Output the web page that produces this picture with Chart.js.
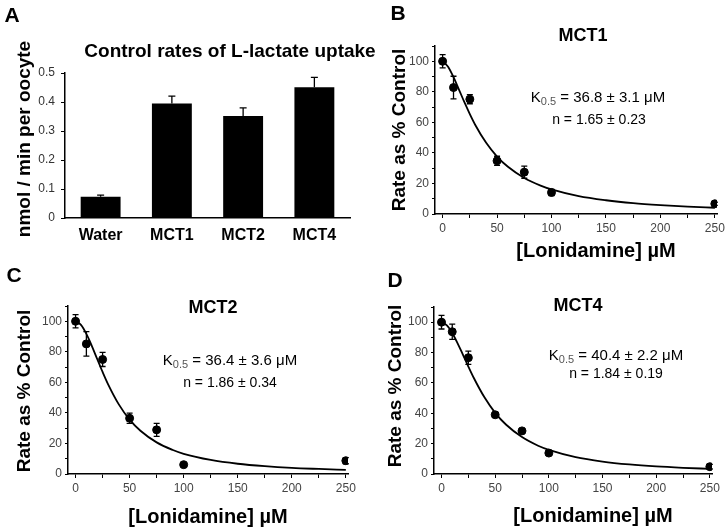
<!DOCTYPE html>
<html>
<head>
<meta charset="utf-8">
<title>Lonidamine inhibition of MCT1, MCT2 and MCT4</title>
<script src="https://cdn.jsdelivr.net/npm/chart.js"></script>
<style>
  body { margin: 0; background: #fff; }
  #figure { position: relative; width: 728px; height: 532px; overflow: hidden; }
  .panel { position: absolute; }
</style>
</head>
<body>
<div id="figure">
  <div class="panel" style="left:0;top:0"><canvas id="panel-a" width="400" height="266"></canvas></div>
  <div class="panel" style="left:364px;top:0"><canvas id="panel-b" width="364" height="266"></canvas></div>
  <div class="panel" style="left:0;top:266px"><canvas id="panel-c" width="364" height="266"></canvas></div>
  <div class="panel" style="left:364px;top:266px"><canvas id="panel-d" width="364" height="266"></canvas></div>
</div>
<script>
const FONT = '"Liberation Sans", Arial, sans-serif';

// Panel A - control L-lactate uptake (nmol / min per oocyte)
const groups = ['Water', 'MCT1', 'MCT2', 'MCT4'];
const uptakeRates = [0.073, 0.395, 0.352, 0.451];
const uptakeErrors = [0.006, 0.025, 0.028, 0.034];
const uptakeTicks = [0, 0.1, 0.2, 0.3, 0.4, 0.5];

// Panels B-D - rate as % of control vs lonidamine (uM)
const doses = [0, 10, 25, 50, 75, 100, 250];
const mct1Rates = [100, 82.8, 75.2, 34.8, 27.4, 14.1, 6.7];
const mct1Errors = [4.3, 7.4, 3.0, 3.0, 4.0, 2.0, 1.0];
const mct2Rates = [100, 85.2, 75.0, 36.5, 28.9, 6.1, 8.7];
const mct2Errors = [4.3, 8.0, 4.6, 3.3, 4.3, 0, 2.0];
const mct4Rates = [100, 93.7, 76.6, 39.0, 28.4, 13.8, 4.8];
const mct4Errors = [4.5, 5.0, 4.4, 1.5, 1.0, 1.5, 1.5];

// fitted curves
const fitDoses = [0, 5, 10, 15, 20, 25, 30, 40, 50, 60, 75, 90, 100, 125, 150, 175, 200, 225, 250];
const mct1Fit = [100, 96.4, 89.6, 81.5, 73.2, 65.4, 58.3, 46.6, 37.6, 30.9, 23.6, 18.6, 16.1, 11.7, 9.0, 7.1, 5.8, 4.8, 4.1];
const mct2Fit = [100, 97.6, 91.7, 83.9, 75.3, 66.8, 58.9, 45.6, 35.6, 28.3, 20.7, 15.7, 13.2, 9.2, 6.7, 5.1, 4.0, 3.3, 2.7];
const mct4Fit = [100, 97.9, 92.9, 86.1, 78.5, 70.8, 63.4, 50.5, 40.3, 32.6, 24.3, 18.6, 15.9, 11.1, 8.2, 6.3, 5.0, 4.1, 3.4];

const doseTicks = [0, 50, 100, 150, 200, 250];
const rateTicks = [0, 20, 40, 60, 80, 100];

Chart.defaults.font.family = FONT;
Chart.defaults.animation = false;

// error bars drawn from dataset.errors through the y scale
const errorBars = {
  id: 'errorBars',
  afterDatasetsDraw(chart) {
    const ctx = chart.ctx;
    const yScale = chart.scales.y;
    chart.data.datasets.forEach((ds, i) => {
      if (!ds.errors) return;
      const cap = ds.capWidth || 3;
      ctx.save();
      ctx.strokeStyle = '#000';
      ctx.lineWidth = 1.3;
      chart.getDatasetMeta(i).data.forEach((el, j) => {
        const err = ds.errors[j];
        if (!err) return;
        const raw = ds.data[j];
        const value = typeof raw === 'object' ? raw.y : raw;
        const top = yScale.getPixelForValue(value + err);
        const bottom = yScale.getPixelForValue(ds.upperOnly ? value : value - err);
        ctx.beginPath();
        ctx.moveTo(el.x, bottom);
        ctx.lineTo(el.x, top);
        ctx.moveTo(el.x - cap, top);
        ctx.lineTo(el.x + cap, top);
        if (!ds.upperOnly) {
          ctx.moveTo(el.x - cap, bottom);
          ctx.lineTo(el.x + cap, bottom);
        }
        ctx.stroke();
      });
      ctx.restore();
    });
  }
};

// free text: panel letters, titles, axis titles, fit parameters
const panelText = {
  id: 'panelText',
  defaults: { items: [] },
  afterDraw(chart, args, opts) {
    const ctx = chart.ctx;
    opts.items.forEach(item => {
      const parts = item.parts || [{ text: item.text }];
      const fontOf = p => `${p.weight || item.weight || 'normal'} ${p.size || item.size}px ${FONT}`;
      ctx.save();
      ctx.translate(item.x, item.y);
      if (item.rotate) ctx.rotate(item.rotate * Math.PI / 180);
      ctx.textBaseline = 'middle';
      ctx.textAlign = 'left';
      let total = 0;
      parts.forEach(p => { ctx.font = fontOf(p); total += ctx.measureText(p.text).width; });
      let x = -total / 2;
      parts.forEach(p => {
        ctx.font = fontOf(p);
        ctx.fillStyle = p.color || item.color || '#000';
        ctx.fillText(p.text, x, p.dy || 0);
        x += ctx.measureText(p.text).width;
      });
      ctx.restore();
    });
  }
};

Chart.register(errorBars, panelText);

function majorOnly(majors) {
  return value => majors.some(t => Math.abs(t - value) < 1e-9) ? String(+value.toFixed(2)) : '';
}

function kLine(k, x, y) {
  return {
    x: x, y: y, size: 15, parts: [
      { text: 'K' },
      { text: '0.5', size: 11, dy: 4, color: '#555' },
      { text: ' = ' + k + ' \u03bcM' }
    ]
  };
}

// Panel A
new Chart(document.getElementById('panel-a'), {
  type: 'bar',
  data: {
    labels: groups,
    datasets: [{
      data: uptakeRates,
      backgroundColor: '#000',
      barPercentage: 0.56,
      categoryPercentage: 1,
      errors: uptakeErrors,
      upperOnly: true,
      capWidth: 3.5
    }]
  },
  options: {
    responsive: false,
    events: [],
    layout: { padding: { left: 0, top: 73, right: 50, bottom: 0 } },
    scales: {
      x: {
        afterFit: s => { s.height = 48; },
        grid: { display: false, drawTicks: false },
        border: { color: '#000', width: 1.5 },
        ticks: { color: '#000', padding: 8, font: { size: 16, weight: 'bold' } }
      },
      y: {
        min: 0,
        max: 0.5,
        afterFit: s => { s.width = 65; },
        grid: { drawOnChartArea: false, color: '#000', tickLength: 4 },
        border: { color: '#000', width: 1.5 },
        ticks: { stepSize: 0.05, padding: 6, color: '#333', font: { size: 12 }, callback: majorOnly(uptakeTicks) }
      }
    },
    plugins: {
      legend: { display: false },
      tooltip: { enabled: false },
      panelText: {
        items: [
          { text: 'A', x: 12, y: 16, size: 21, weight: 'bold' },
          { text: 'Control rates of L-lactate uptake', x: 230, y: 52, size: 19, weight: 'bold' },
          { text: 'nmol / min per oocyte', x: 25, y: 139, size: 19, weight: 'bold', rotate: -90 }
        ]
      }
    }
  }
});

function doseResponseChart(canvasId, rates, errors, fit, box, texts) {
  return new Chart(document.getElementById(canvasId), {
    type: 'scatter',
    data: {
      datasets: [
        {
          type: 'line',
          data: fitDoses.map((d, i) => ({ x: d, y: fit[i] })),
          borderColor: '#000',
          borderWidth: 1.8,
          pointRadius: 0,
          cubicInterpolationMode: 'monotone',
          fill: false
        },
        {
          data: doses.map((d, i) => ({ x: d, y: rates[i] })),
          backgroundColor: '#000',
          borderColor: '#000',
          pointRadius: 4,
          errors: errors,
          capWidth: 3
        }
      ]
    },
    options: {
      responsive: false,
      events: [],
      layout: { padding: { left: 0, top: box.top, right: box.right, bottom: 0 } },
      scales: {
        x: {
          type: 'linear',
          min: -7,
          max: 252,
          afterFit: s => { s.height = box.xHeight; },
          grid: { drawOnChartArea: false, color: '#000', tickLength: 4 },
          border: { color: '#000', width: 1.5 },
          ticks: {
            stepSize: 25, includeBounds: false, autoSkip: false, maxRotation: 0,
            padding: 3, color: '#444', font: { size: 12 }, callback: majorOnly(doseTicks)
          }
        },
        y: {
          min: 0,
          max: 110,
          afterFit: s => { s.width = box.yWidth; },
          grid: { drawOnChartArea: false, color: '#000', tickLength: 3 },
          border: { color: '#000', width: 1.5 },
          ticks: {
            stepSize: 10, includeBounds: false, autoSkip: false,
            padding: 3, color: '#444', font: { size: 12 }, callback: majorOnly(rateTicks)
          }
        }
      },
      plugins: {
        legend: { display: false },
        tooltip: { enabled: false },
        panelText: { items: texts }
      }
    }
  });
}

doseResponseChart('panel-b', mct1Rates, mct1Errors, mct1Fit,
  { top: 46, right: 11, yWidth: 71, xHeight: 52 },
  [
    { text: 'B', x: 34, y: 14, size: 21, weight: 'bold' },
    { text: 'MCT1', x: 219, y: 36, size: 18, weight: 'bold' },
    { text: 'Rate as % Control', x: 36, y: 130, size: 19, weight: 'bold', rotate: -90 },
    { text: '[Lonidamine] \u00b5M', x: 232, y: 251, size: 20, weight: 'bold' },
    kLine('36.8 \u00b1 3.1', 234, 98),
    { text: 'n = 1.65 \u00b1 0.23', x: 235, y: 120, size: 14 }
  ]);

doseResponseChart('panel-c', mct2Rates, mct2Errors, mct2Fit,
  { top: 40, right: 16, yWidth: 68, xHeight: 58 },
  [
    { text: 'C', x: 14, y: 10, size: 21, weight: 'bold' },
    { text: 'MCT2', x: 213, y: 42, size: 18, weight: 'bold' },
    { text: 'Rate as % Control', x: 25, y: 125, size: 19, weight: 'bold', rotate: -90 },
    { text: '[Lonidamine] \u00b5M', x: 208, y: 251, size: 20, weight: 'bold' },
    kLine('36.4 \u00b1 3.6', 230, 95),
    { text: 'n = 1.86 \u00b1 0.34', x: 230, y: 117, size: 14 }
  ]);

doseResponseChart('panel-d', mct4Rates, mct4Errors, mct4Fit,
  { top: 41, right: 16, yWidth: 70, xHeight: 58 },
  [
    { text: 'D', x: 31, y: 15, size: 21, weight: 'bold' },
    { text: 'MCT4', x: 214, y: 40, size: 18, weight: 'bold' },
    { text: 'Rate as % Control', x: 32, y: 120, size: 19, weight: 'bold', rotate: -90 },
    { text: '[Lonidamine] \u00b5M', x: 229, y: 250, size: 20, weight: 'bold' },
    kLine('40.4 \u00b1 2.2', 252, 90),
    { text: 'n = 1.84 \u00b1 0.19', x: 252, y: 108, size: 14 }
  ]);
</script>
</body>
</html>
